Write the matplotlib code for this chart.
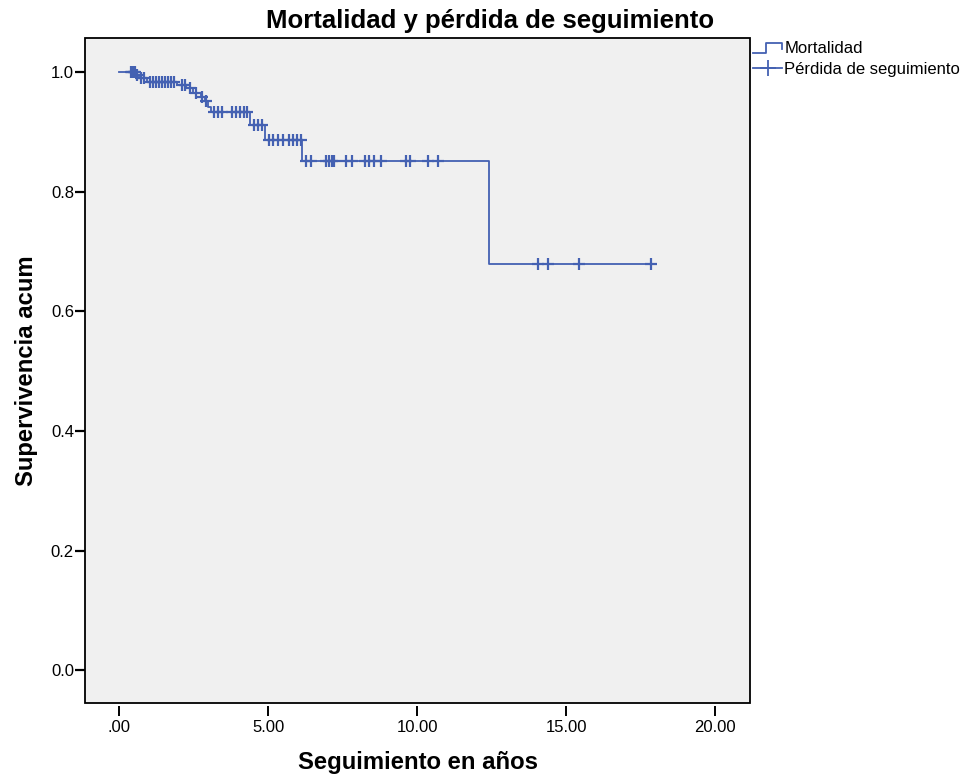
import numpy as np
import matplotlib
matplotlib.use("Agg")
import matplotlib.pyplot as plt
from matplotlib.lines import Line2D
from matplotlib.legend_handler import HandlerBase
from matplotlib.patches import Rectangle

plt.rcParams['font.family'] = ['Liberation Sans', 'DejaVu Sans']

# Kaplan-Meier steps (years, survival after the step)
event_times = [0.57, 0.68, 0.95, 1.96, 2.26, 2.50, 2.74, 2.87, 3.00, 3.10,
               4.40, 4.90, 6.14, 12.42]
surv_levels = [0.995, 0.990, 0.983, 0.978, 0.973, 0.965, 0.958, 0.951, 0.942, 0.933,
               0.911, 0.886, 0.851, 0.679]

# censored cases (loss to follow-up)
censor_times = [0.40, 0.45, 0.50, 0.54, 0.62, 0.75, 0.85,
                1.04, 1.14, 1.24, 1.34, 1.44, 1.54, 1.64, 1.74, 1.84,
                2.10, 2.20, 2.38, 2.60, 2.80, 2.93,
                3.20, 3.33, 3.46, 3.80, 3.93, 4.06, 4.20, 4.30,
                4.53, 4.66, 4.80,
                5.03, 5.17, 5.34, 5.50, 5.70, 5.84, 5.97, 6.10,
                6.28, 6.45, 6.93, 7.03, 7.13, 7.23, 7.60, 7.83, 8.27, 8.40, 8.54, 8.80,
                9.63, 9.77, 10.37, 10.70,
                14.06, 14.40, 15.44, 17.85]

x_ticks = [0, 5, 10, 15, 20]
y_ticks = [0.0, 0.2, 0.4, 0.6, 0.8, 1.0]

line_col = '#4461B2'
bg_col = '#F0F0F0'


class StepHandler(HandlerBase):
    # little step glyph like the SPSS legend
    def create_artists(self, legend, orig_handle, xdescent, ydescent, width, height, fontsize, trans):
        x0, y0 = -xdescent, -ydescent
        xs = [x0, x0 + width * 0.45, x0 + width * 0.45, x0 + width, x0 + width]
        ys = [y0 + height * 0.05, y0 + height * 0.05, y0 + height * 0.85,
              y0 + height * 0.85, y0 + height * 0.35]
        ln = Line2D(xs, ys, color=orig_handle.get_color(), lw=orig_handle.get_linewidth(),
                    transform=trans)
        return [ln]


fig = plt.figure(figsize=(9.67, 7.77), dpi=100)
ax = fig.add_axes([85 / 967, 74 / 777, 665 / 967, 665 / 777])
ax.set_facecolor(bg_col)

all_levels = [1.0] + surv_levels
step_x = [0.0] + event_times + [censor_times[-1]]
step_y = all_levels + [all_levels[-1]]
ax.step(step_x, step_y, where='post', color=line_col, lw=1.3)

idx = np.searchsorted(event_times, censor_times, side='right')
censor_y = np.array(all_levels)[idx]
ax.plot(censor_times, censor_y, ls='none', marker='+', ms=8.5, mew=1.6, color=line_col)

ax.set_xlim(-1.14, 21.17)
ax.set_ylim(-0.055, 1.057)

ax.set_xticks(x_ticks)
ax.set_xticklabels([(f"{v:.2f}" if v else ".00") for v in x_ticks])
ax.set_yticks(y_ticks)
ax.set_yticklabels([f"{v:.1f}" for v in y_ticks])

for s in ax.spines.values():
    s.set_visible(False)
ax.spines['bottom'].set_position(('outward', 2))
ax.add_patch(Rectangle((0, 0), 1, 1, transform=ax.transAxes, fill=False,
                       ec='black', lw=1.3, clip_on=False, zorder=5))

ax.tick_params(axis='x', length=7.5, width=1.4, pad=3, labelsize=12)
ax.tick_params(axis='y', length=7, width=1.6, pad=1, labelsize=12)

# SPSS centres the title over the whole chart, legend included
ax.set_title("Mortalidad y pérdida de seguimiento", fontsize=18.5, fontweight='bold',
             pad=7, x=0.609)
ax.set_xlabel("Seguimiento en años", fontsize=17.2, fontweight='bold', labelpad=11)
ax.set_ylabel("Supervivencia acum", fontsize=17.2, fontweight='bold', labelpad=9)

h_mort = Line2D([], [], color=line_col, lw=1.3)
h_cens = Line2D([], [], color=line_col, lw=1.3, marker='+', ms=11, mew=1.3)
ax.legend([h_mort, h_cens], ["Mortalidad", "Pérdida de seguimiento"],
          handler_map={h_mort: StepHandler()},
          loc='upper left', bbox_to_anchor=(1.0, 1.0), frameon=False,
          fontsize=12, handlelength=1.75, handletextpad=0.1,
          borderaxespad=0.1, borderpad=0.1, labelspacing=0.35)

fig.savefig("out.png", dpi=100, facecolor='white')
